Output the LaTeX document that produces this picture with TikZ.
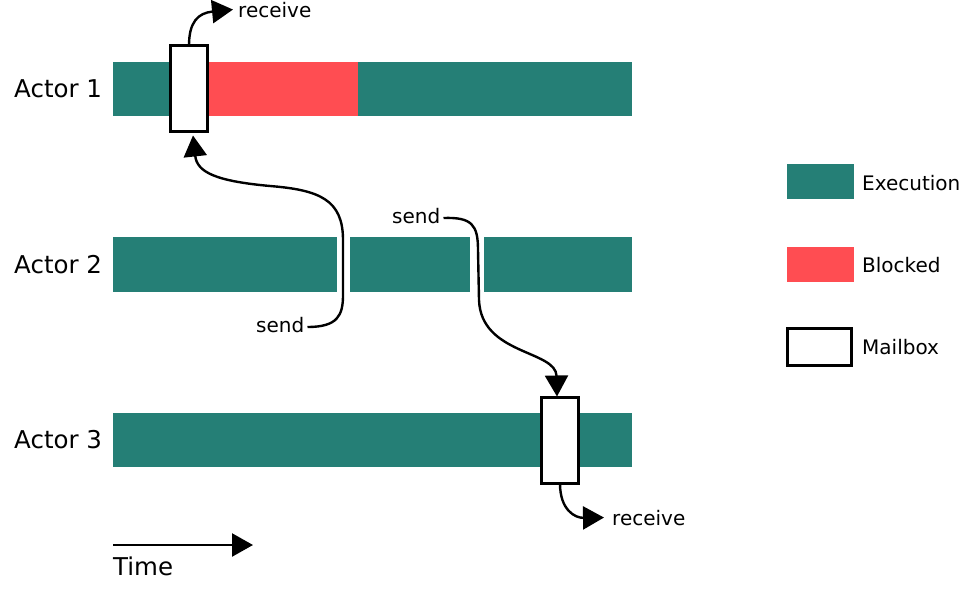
\documentclass[tikz,border=0pt]{standalone}
\usepackage{fontspec}
\setmainfont{DejaVu Sans}
\usetikzlibrary{arrows.meta}
\definecolor{runcolor}{HTML}{257F76}
\definecolor{blockcolor}{HTML}{FF4D52}
\begin{document}
\begin{tikzpicture}[x=1pt, y=-1pt,
    bar/.style={anchor=north west, inner sep=0pt, outer sep=0pt},
    run/.style={bar, fill=runcolor},
    blocked/.style={bar, fill=blockcolor},
    mailbox/.style={bar, draw=black, line width=3.4pt, fill=white},
    actor/.style={anchor=base west, inner sep=0pt, font=\fontsize{24.5}{28}\selectfont},
    note/.style={anchor=base west, inner sep=0pt, font=\fontsize{20}{24}\selectfont},
    msg/.style={line width=2.4pt, -{Triangle[length=21pt,width=23pt]}}]
    \useasboundingbox (0,0) rectangle (961,589);

    % actors
    \node[actor] (act1) at (14,97) {Actor 1};
    \node[actor] (act2) at (14,273) {Actor 2};
    \node[actor] (act3) at (14,448) {Actor 3};

    \node[run, minimum width=519pt, minimum height=54pt] (run1) at (113,62) {};
    \node[blocked, minimum width=158pt, minimum height=54pt] (block1) at (200,62) {};
    \node[mailbox, minimum width=37pt, minimum height=86pt] (mbox1) at (170.5,45.5) {};

    \node[run, minimum width=224pt, minimum height=55pt] (run2a) at (113,237) {};
    \node[run, minimum width=120pt, minimum height=55pt] (run2b) at (350,237) {};
    \node[run, minimum width=148pt, minimum height=55pt] (run2c) at (484,237) {};

    \node[run, minimum width=519pt, minimum height=54pt] (run3) at (113,413) {};
    \node[mailbox, minimum width=37pt, minimum height=86pt] (mbox3) at (541.5,397.5) {};

    % messages
    \node[note] (recv1) at (238,17) {receive};
    \node[note] (send1) at (256,332) {send};
    \node[note] (send2) at (392,223) {send};
    \node[note] (recv3) at (612,525) {receive};

    \draw[msg] (mbox1.north) .. controls (189,22) and (198,13) .. ([xshift=-5pt]recv1.west);
    \draw[msg] ([shift={(3pt,5pt)}]send1.base east) .. controls (338,327) and (343,315) .. (343,295)
        -- (343,240) .. controls (343,200) and (320,190) .. (270,186)
        .. controls (215,181) and (197,172) .. ([xshift=4pt,yshift=-4pt]mbox1.south);
    \draw[msg] ([shift={(3pt,5pt)}]send2.base east) .. controls (472,217) and (478,225) .. (478,250)
        -- (479,300) .. controls (481,355) and (556,350) .. ([xshift=-3pt,yshift=1pt]mbox3.north);
    \draw[msg] (mbox3.south) .. controls (560,510) and (575,518) .. ([xshift=-8pt]recv3.west);

    % time axis
    \coordinate (t0) at (113,545);
    \coordinate (t1) at (253,545);
    \draw[msg] (t0) -- (t1);
    \node[actor] (time) at (113,575) {Time};

    % legend
    \node[run, minimum width=67pt, minimum height=35pt] (keyrun) at (787,164) {};
    \node[blocked, minimum width=67pt, minimum height=35pt] (keyblock) at (787,247) {};
    \node[mailbox, minimum width=64pt, minimum height=37pt] (keymbox) at (787.5,328.5) {};
    \node[note] (keyruntext) at (862,190) {Execution};
    \node[note] (keyblocktext) at (862,272) {Blocked};
    \node[note] (keymboxtext) at (862,354) {Mailbox};
\end{tikzpicture}
\end{document}
